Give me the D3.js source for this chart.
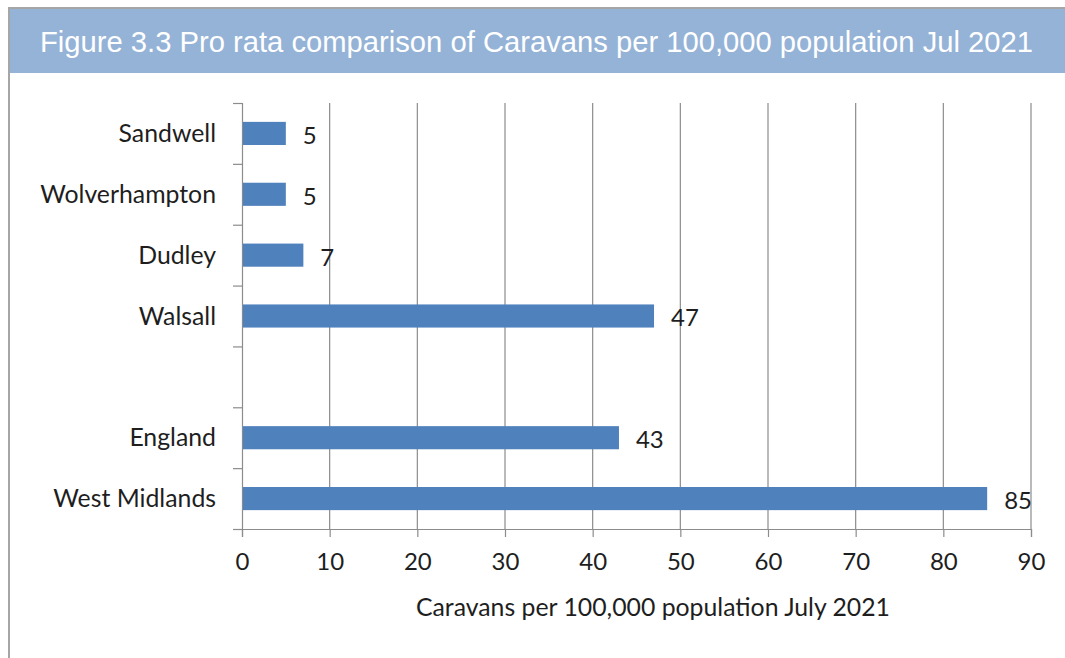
<!DOCTYPE html>
<html lang="en">
  <head>
    <meta charset="utf-8">
    <title>Caravans per 100,000 population</title>
    <script src="https://d3js.org/d3.v7.min.js"></script>
    <style>
      body { margin: 0; background: #fff; }
      svg { display: block; }
    </style>
  </head>
  <body>
    <svg id="chart" width="1065" height="658"></svg>
    <script type="text/javascript">

      // data (blank entry = gap between districts and totals)
      var areas = ["Sandwell", "Wolverhampton", "Dudley", "Walsall", "", "England", "West Midlands"];
      var caravans = [5, 5, 7, 47, null, 43, 85];
      var xTicks = [0, 10, 20, 30, 40, 50, 60, 70, 80, 90];

      var titleText = "Figure 3.3 Pro rata comparison of Caravans per 100,000 population Jul 2021";
      var axisTitle = "Caravans per 100,000 population July 2021";

      var svg = d3.select("#chart");
      var labelFont = "Lato, 'Open Sans', sans-serif";
      var fs = 24;

      // frame + title band
      svg.append("line").attr("x1", 8).attr("x2", 1065).attr("y1", 8).attr("y2", 8)
        .attr("stroke", "#a6a6a6").attr("stroke-width", 2);
      svg.append("line").attr("x1", 9).attr("x2", 9).attr("y1", 7).attr("y2", 658)
        .attr("stroke", "#a6a6a6").attr("stroke-width", 2);
      svg.append("rect").attr("x", 10).attr("y", 9).attr("width", 1055).attr("height", 64)
        .attr("fill", "#95b3d7");
      svg.append("text").attr("x", 40).attr("y", 52)
        .attr("font-family", "'Liberation Sans', Arial, sans-serif")
        .attr("font-size", 29.2).attr("fill", "#fff")
        .text(titleText);

      var margin = { left: 242, right: 1031, top: 103, bottom: 529 };

      var x = d3.scaleLinear().domain([0, 90]).range([margin.left, margin.right]);
      var y = d3.scaleBand().domain(areas.map(function(d, i){ return i; }))
        .range([margin.top, margin.bottom]).paddingInner(0.62).paddingOuter(0.31);

      // vertical gridlines
      svg.append("g").selectAll("line").data(xTicks.slice(1)).enter().append("line")
        .attr("x1", function(d){ return x(d); }).attr("x2", function(d){ return x(d); })
        .attr("y1", margin.top).attr("y2", margin.bottom)
        .attr("stroke", "#8c8c8c").attr("stroke-width", 1.2);

      // x axis
      var xAxis = svg.append("g").attr("transform", "translate(0," + margin.bottom + ")")
        .call(d3.axisBottom(x).tickValues(xTicks).tickSize(8).tickPadding(16));
      xAxis.select(".domain").attr("stroke", "#8c8c8c").attr("stroke-width", 1.2);
      xAxis.selectAll(".tick line").attr("stroke", "#8c8c8c").attr("stroke-width", 1.2);
      xAxis.selectAll("text").attr("font-family", labelFont).attr("font-size", fs).attr("fill", "#1e1e1e");

      // y axis: ticks on category boundaries
      var yBound = d3.scaleLinear().domain([0, areas.length]).range([margin.top, margin.bottom]);
      var yAxis = svg.append("g").attr("transform", "translate(" + margin.left + ",0)")
        .call(d3.axisLeft(yBound).ticks(areas.length).tickSize(9).tickFormat(""));
      yAxis.select(".domain").attr("stroke", "#8c8c8c").attr("stroke-width", 1.2);
      yAxis.selectAll(".tick line").attr("stroke", "#8c8c8c").attr("stroke-width", 1.2);

      // category labels
      svg.append("g").selectAll("text").data(areas).enter().append("text")
        .attr("x", margin.left - 26)
        .attr("y", function(d, i){ return y(i) + y.bandwidth() / 2; })
        .attr("dy", "0.35em").attr("text-anchor", "end")
        .attr("font-family", labelFont).attr("font-size", 24.8).attr("fill", "#1e1e1e")
        .text(function(d){ return d; });

      var rows = caravans.map(function(v, i){ return { i: i, v: v }; })
        .filter(function(d){ return d.v !== null; });

      // bars
      svg.append("g").selectAll("rect").data(rows).enter().append("rect")
        .attr("x", x(0) + 1)
        .attr("y", function(d){ return y(d.i); })
        .attr("width", function(d){ return x(d.v) - x(0) - 1; })
        .attr("height", y.bandwidth())
        .attr("fill", "#4f81bd");

      // value labels
      svg.append("g").selectAll("text").data(rows).enter().append("text")
        .attr("x", function(d){ return x(d.v) + 17; })
        .attr("y", function(d){ return y(d.i) + y.bandwidth() / 2 + 2; })
        .attr("dy", "0.35em")
        .attr("font-family", labelFont).attr("font-size", fs).attr("fill", "#1e1e1e")
        .text(function(d){ return d.v; });

      // axis title
      svg.append("text").attr("x", 653).attr("y", 616).attr("text-anchor", "middle")
        .attr("font-family", labelFont).attr("font-size", 24.8).attr("fill", "#1e1e1e")
        .text(axisTitle);

    </script>
  </body>
</html>
